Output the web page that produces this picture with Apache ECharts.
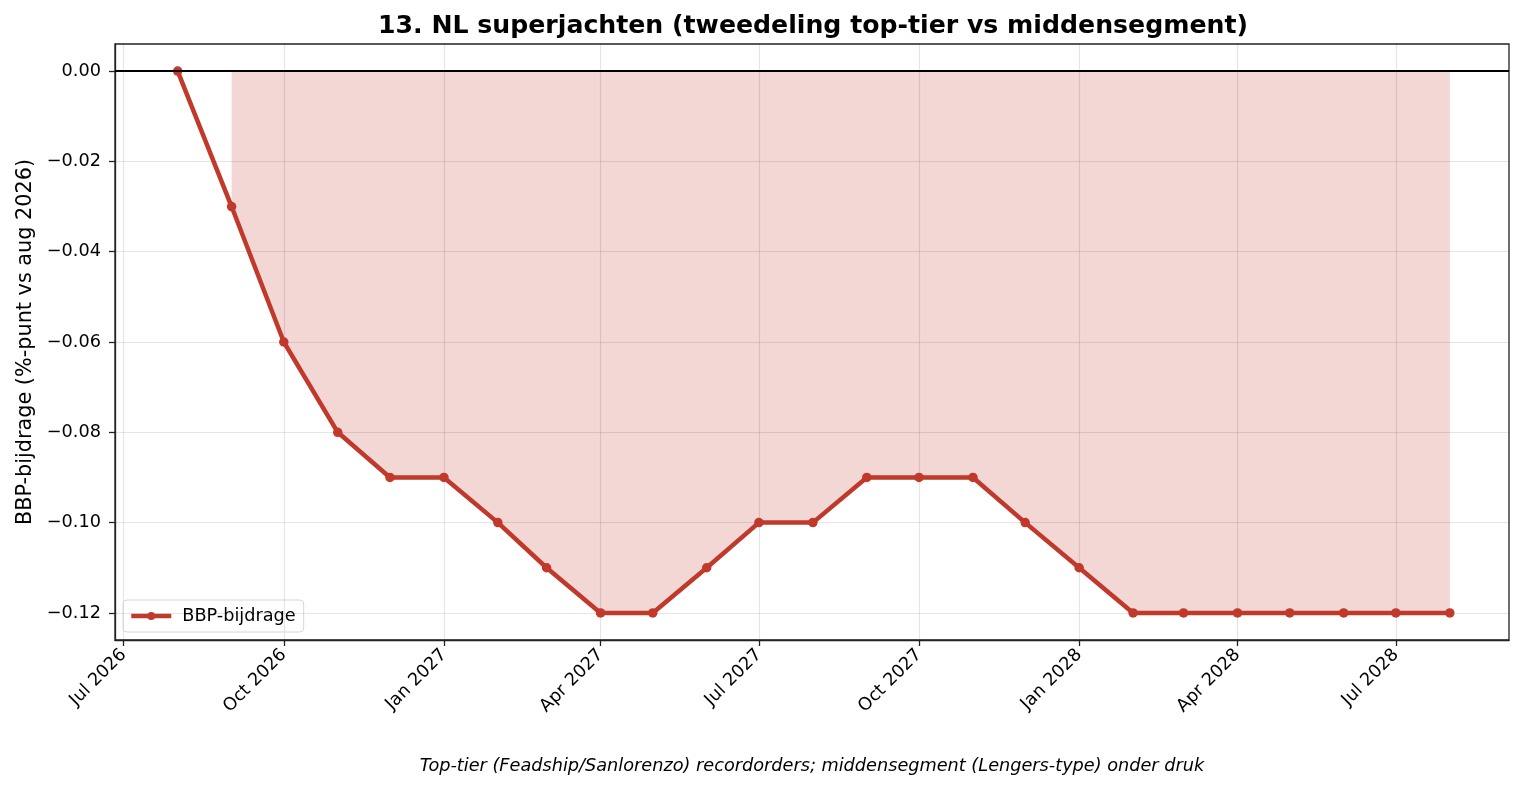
<!DOCTYPE html>
<html>
<head>
<meta charset="utf-8">
<script src="https://cdn.jsdelivr.net/npm/echarts@6/dist/echarts.min.js"></script>
<style>
  html, body { margin: 0; padding: 0; background: #fff; }
  #chart { width: 1523px; height: 791px; }
</style>
</head>
<body>
<div id="chart"></div>
<script>
// maanden (eerste van de maand) en BBP-bijdrage
const months = [
  '2026-08-01', '2026-09-01', '2026-10-01', '2026-11-01', '2026-12-01',
  '2027-01-01', '2027-02-01', '2027-03-01', '2027-04-01', '2027-05-01',
  '2027-06-01', '2027-07-01', '2027-08-01', '2027-09-01', '2027-10-01',
  '2027-11-01', '2027-12-01', '2028-01-01', '2028-02-01', '2028-03-01',
  '2028-04-01', '2028-05-01', '2028-06-01', '2028-07-01', '2028-08-01'
];
const bbp = [
  0.00, -0.03, -0.06, -0.08, -0.09,
  -0.09, -0.10, -0.11, -0.12, -0.12,
  -0.11, -0.10, -0.10, -0.09, -0.09,
  -0.09, -0.10, -0.11, -0.12, -0.12,
  -0.12, -0.12, -0.12, -0.12, -0.12
];
// gevuld gebied begint bij sep 2026
const fillStart = 1;
const xTicks = [
  '2026-07-01', '2026-10-01', '2027-01-01', '2027-04-01', '2027-07-01',
  '2027-10-01', '2028-01-01', '2028-04-01', '2028-07-01'
];
const yTicks = [0, -0.02, -0.04, -0.06, -0.08, -0.10, -0.12];

const maandNamen = ['Jan', 'Feb', 'Mar', 'Apr', 'May', 'Jun', 'Jul', 'Aug', 'Sep', 'Oct', 'Nov', 'Dec'];
const ts = (s) => new Date(s + 'T00:00:00Z').getTime();

const chart = echarts.init(document.getElementById('chart'));
const font = 'DejaVu Sans';
const red = '#c0392b';
const tickSize = 17.7;

const lineData = months.map((m, i) => [ts(m), bbp[i]]);
const fillData = lineData.slice(fillStart);

const option = {
  animation: false,
  textStyle: { fontFamily: font },
  title: {
    text: '13. NL superjachten (tweedeling top-tier vs middensegment)',
    left: 808, textAlign: 'center', top: 9,
    textStyle: { fontFamily: font, fontSize: 25.2, fontWeight: 'bold', color: '#000' }
  },
  grid: {
    left: 115, right: 14, top: 44, bottom: 151,
    show: true, borderColor: '#222', borderWidth: 1.3, backgroundColor: 'transparent'
  },
  legend: {
    left: 123, top: 600,
    orient: 'vertical',
    data: ['BBP-bijdrage'],
    itemWidth: 40, itemHeight: 10,
    padding: [7, 8, 7, 6],
    borderColor: '#d6d6d6', borderWidth: 1, borderRadius: 4,
    lineStyle: { width: 4.5 },
    textStyle: { fontFamily: font, fontSize: tickSize, color: '#000', padding: [0, 0, 0, 6] }
  },
  xAxis: {
    type: 'value',
    min: ts('2026-06-26'), max: ts('2028-09-04'),
    axisLine: { onZero: false, lineStyle: { color: '#222', width: 1.3 } },
    axisTick: { show: true, length: 6, customValues: xTicks.map(ts), lineStyle: { color: '#222', width: 1.3 } },
    axisLabel: {
      customValues: xTicks.map(ts),
      rotate: 45, margin: 12,
      fontFamily: font, fontSize: tickSize, color: '#000',
      formatter: (v) => { const d = new Date(v); return maandNamen[d.getUTCMonth()] + ' ' + d.getUTCFullYear(); }
    },
    splitLine: { show: true, lineStyle: { color: 'rgba(0,0,0,0.1)', width: 1.2 } }
  },
  yAxis: {
    type: 'value',
    min: -0.126, max: 0.006,
    name: 'BBP-bijdrage (%-punt vs aug 2026)',
    nameLocation: 'middle', nameGap: 79,
    nameTextStyle: { fontFamily: font, fontSize: 20.8, color: '#000' },
    axisLine: { show: true, lineStyle: { color: '#222', width: 1.3 } },
    axisTick: { show: true, length: 6, customValues: yTicks, lineStyle: { color: '#222', width: 1.3 } },
    axisLabel: {
      customValues: yTicks,
      fontFamily: font, fontSize: tickSize, color: '#000', margin: 14,
      formatter: (v) => (v < 0 ? '\u2212' : '') + Math.abs(v).toFixed(2)
    },
    splitLine: { show: true, lineStyle: { color: 'rgba(0,0,0,0.1)', width: 1.2 } }
  },
  series: [
    {
      name: 'fill',
      type: 'line',
      data: fillData,
      symbol: 'none',
      lineStyle: { width: 1.2, color: 'rgba(192,57,43,0.28)' },
      areaStyle: { color: 'rgba(192,57,43,0.2)', opacity: 1, origin: 0 },
      silent: true,
      z: -1
    },
    {
      name: 'BBP-bijdrage',
      type: 'line',
      data: lineData,
      symbol: 'circle', symbolSize: 9.5,
      itemStyle: { color: red },
      lineStyle: { width: 4.5, color: red },
      z: 3,
      markLine: {
        silent: true, symbol: 'none', label: { show: false },
        lineStyle: { color: '#000', width: 2, type: 'solid' },
        data: [{ yAxis: 0 }]
      }
    }
  ],
  graphic: [
    {
      type: 'text', x: 812, y: 766,
      style: {
        text: 'Top-tier (Feadship/Sanlorenzo) recordorders; middensegment (Lengers-type) onder druk',
        fontFamily: font, fontSize: tickSize, fontStyle: 'italic', fill: '#000',
        align: 'center', verticalAlign: 'middle',
        textAlign: 'center', textVerticalAlign: 'middle'
      }
    }
  ]
};

chart.setOption(option);
</script>
</body>
</html>
